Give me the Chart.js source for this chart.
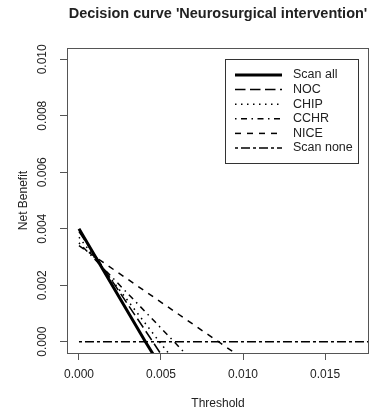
<!DOCTYPE html>
<html>
<head>
<meta charset="utf-8">
<script src="https://cdn.jsdelivr.net/npm/chart.js@4/dist/chart.umd.min.js"></script>
<style>
  html, body { margin: 0; padding: 0; background: #fff; }
  #wrap { width: 371px; height: 412px; }
</style>
</head>
<body>
<div id="wrap"><canvas id="dca"></canvas></div>
<script>
// Decision curve data
const seriesNames = ['Scan all', 'NOC', 'CHIP', 'CCHR', 'NICE', 'Scan none'];

const scanAllX = [0, 0.00405, 0.0049];
const scanAllY = [0.0040, 0, -0.0008];
const nocX = [0, 0.0045, 0.0054];
const nocY = [0.0039, 0, -0.0008];
const chipX = [0, 0.0049, 0.0060];
const chipY = [0.0037, 0, -0.0008];
const cchrX = [0, 0.0058, 0.0071];
const cchrY = [0.0035, 0, -0.0008];
const niceX = [0, 0.0085, 0.0105];
const niceY = [0.0034, 0, -0.0008];
const scanNoneX = [0, 0.018];
const scanNoneY = [0, 0];

const xTicks = [0, 0.005, 0.010, 0.015];
const yTicks = [0, 0.002, 0.004, 0.006, 0.008, 0.010];

const FONT = "'Liberation Sans', Arial, Helvetica, sans-serif";
const INK = '#222';
const AXIS = '#555';

function pts(xs, ys) {
    return xs.map((x, i) => ({ x: x, y: ys[i] }));
}

function line(label, xs, ys, dash, width) {
    return {
        label: label,
        data: pts(xs, ys),
        borderColor: '#000',
        borderWidth: width,
        borderDash: dash,
        pointRadius: 0,
        tension: 0,
        fill: false,
        clip: 0
    };
}

// box round the plot region + legend, R style
const rBox = {
    id: 'rBox',
    afterDraw(chart) {
        const ctx = chart.ctx;
        const a = chart.chartArea;
        ctx.save();
        ctx.strokeStyle = AXIS;
        ctx.lineWidth = 1;
        ctx.strokeRect(Math.round(a.left) + 0.5, Math.round(a.top) + 0.5,
            Math.round(a.right - a.left) - 1, Math.round(a.bottom - a.top));

        // legend
        const lx = 225, ly = 59, lw = 133, lh = 104;
        ctx.fillStyle = '#fff';
        ctx.fillRect(lx, ly, lw, lh);
        ctx.strokeStyle = '#333';
        ctx.strokeRect(lx + 0.5, ly + 0.5, lw, lh);
        ctx.font = '12.5px ' + FONT;
        ctx.textBaseline = 'middle';
        ctx.fillStyle = INK;
        chart.data.datasets.forEach((ds, i) => {
            const y = 75 + i * 14.6;
            ctx.beginPath();
            ctx.setLineDash(ds.borderDash);
            ctx.lineWidth = ds.borderWidth;
            ctx.strokeStyle = '#000';
            ctx.moveTo(235, y);
            ctx.lineTo(282, y);
            ctx.stroke();
            ctx.setLineDash([]);
            ctx.fillText(ds.label, 293, y);
        });
        ctx.restore();
    }
};

const ctx = document.getElementById('dca');
new Chart(ctx, {
    type: 'line',
    data: {
        datasets: [
            line(seriesNames[0], scanAllX, scanAllY, [], 3),
            line(seriesNames[1], nocX, nocY, [10.5, 4.5], 1.5),
            line(seriesNames[2], chipX, chipY, [1.5, 4.5], 1.5),
            line(seriesNames[3], cchrX, cchrY, [1.5, 4.5, 6, 4.5], 1.5),
            line(seriesNames[4], niceX, niceY, [6, 6], 1.5),
            line(seriesNames[5], scanNoneX, scanNoneY, [3, 3, 9, 3], 1.5)
        ]
    },
    options: {
        responsive: true,
        maintainAspectRatio: false,
        animation: false,
        layout: { padding: { left: 0, right: 2, top: 0, bottom: 0 } },
        plugins: {
            legend: { display: false },
            tooltip: { enabled: false },
            title: {
                display: true,
                text: "Decision curve 'Neurosurgical intervention'",
                fullSize: false,
                color: INK,
                font: { family: FONT, size: 14.5, weight: 'bold' },
                padding: { top: 5, bottom: 25.6 }
            }
        },
        scales: {
            x: {
                type: 'linear',
                position: 'bottom',
                min: -0.00073,
                max: 0.01768,
                afterBuildTicks: s => { s.ticks = xTicks.map(v => ({ value: v })); },
                afterFit: s => { s.height = 59; },
                grid: { drawOnChartArea: false, drawTicks: true, tickLength: 7, color: AXIS },
                border: { display: false },
                ticks: {
                    color: INK,
                    maxRotation: 0,
                    padding: 7,
                    font: { family: FONT, size: 12 },
                    callback: v => v.toFixed(3)
                },
                title: {
                    display: true,
                    text: 'Threshold',
                    color: INK,
                    font: { family: FONT, size: 12 },
                    padding: { top: 0, bottom: 1 }
                }
            },
            y: {
                type: 'linear',
                position: 'left',
                min: -0.0004,
                max: 0.0104,
                afterBuildTicks: s => { s.ticks = yTicks.map(v => ({ value: v })); },
                afterFit: s => { s.width = 67; },
                grid: { drawOnChartArea: false, drawTicks: true, tickLength: 7, color: AXIS },
                border: { display: false },
                ticks: {
                    color: INK,
                    minRotation: 90,
                    maxRotation: 90,
                    crossAlign: 'center',
                    padding: 2,
                    font: { family: FONT, size: 12 },
                    callback: v => v.toFixed(3)
                },
                title: {
                    display: true,
                    text: 'Net Benefit',
                    color: INK,
                    font: { family: FONT, size: 12 },
                    padding: { top: 16, bottom: 0 }
                }
            }
        }
    },
    plugins: [rBox]
});
</script>
</body>
</html>
